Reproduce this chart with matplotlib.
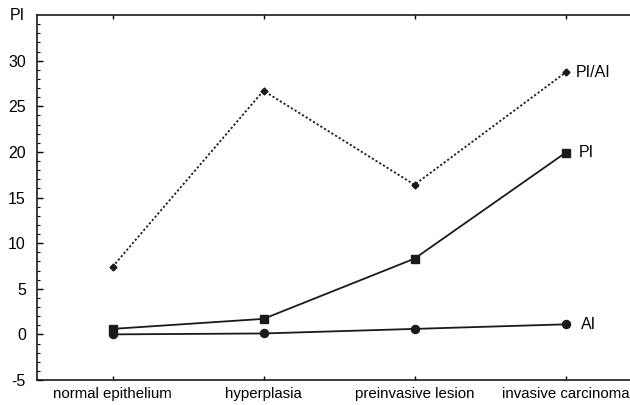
import matplotlib.pyplot as plt
import numpy as np

plt.rcParams['font.family'] = ['Liberation Sans', 'DejaVu Sans']
plt.rcParams['axes.unicode_minus'] = False

stages = ["normal epithelium", "hyperplasia", "preinvasive lesion", "invasive carcinoma"]
pi_ai = [7.4, 26.7, 16.4, 28.7]
pi = [0.6, 1.7, 8.3, 19.9]
ai = [0.0, 0.1, 0.6, 1.1]

x = np.arange(len(stages))

fig = plt.figure(figsize=(6.3, 4.05), dpi=100)
# axes runs past the right edge, as in the cropped original
ax = fig.add_axes([37/630, 25/405, 604/630, 365/405])

ax.plot(x, pi_ai, color='#1a1a1a', linestyle=(0, (1.2, 1.2)), linewidth=1.3,
        marker='D', markersize=3.5)
ax.plot(x, pi, color='#1a1a1a', linewidth=1.3, marker='s', markersize=5.8)
ax.plot(x, ai, color='#1a1a1a', linewidth=1.3, marker='o', markersize=5.8)

ax.text(x[-1] + 0.07, pi_ai[-1], "PI/AI", fontsize=11.5, va='center', ha='left')
ax.text(x[-1] + 0.09, pi[-1], "PI", fontsize=11.5, va='center', ha='left')
ax.text(x[-1] + 0.1, ai[-1], "AI", fontsize=11.5, va='center', ha='left')

ax.set_xlim(-0.5, 3.5)
ax.set_ylim(-5, 35)
ax.set_yticks(np.arange(-5, 31, 5))
ax.set_yticks(np.arange(-5, 35, 1), minor=True)
ax.set_xticks(x)
ax.set_xticklabels(stages, fontsize=10.8)
ax.tick_params(axis='y', which='major', direction='in', length=4, labelsize=11.5,
               width=1, pad=8)
ax.tick_params(axis='y', which='minor', direction='in', length=2.5, width=0.8)
ax.tick_params(axis='x', direction='in', length=3, top=True, pad=5, width=1)
ax.text(-0.5 - 0.08, 35, "PI", fontsize=11.5, ha='right', va='center',
        transform=ax.transData)

for s in ax.spines.values():
    s.set_linewidth(1.2)
    s.set_color('#1a1a1a')

fig.savefig("out.png", dpi=100)
